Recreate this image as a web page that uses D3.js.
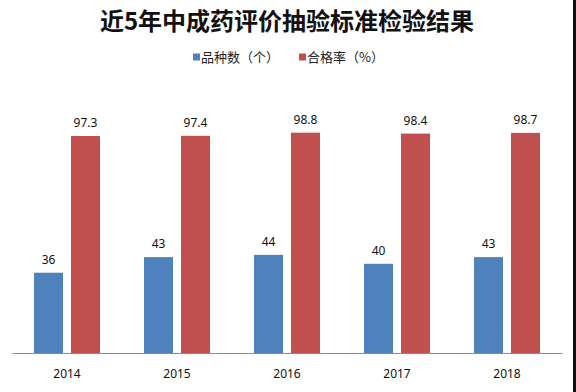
<!DOCTYPE html>
<html>
<head>
<meta charset="utf-8">
<script src="https://cdn.jsdelivr.net/npm/d3@7"></script>
<style>
  html, body { margin: 0; padding: 0; background: #fff; }
  svg { display: block; }
</style>
</head>
<body>
<svg id="chart" width="576" height="392"></svg>
<script>
const titleText = "近5年中成药评价抽验标准检验结果";
const years = ["2014", "2015", "2016", "2017", "2018"];
const seriesNames = ["品种数（个）", "合格率（%）"];
const seriesColors = ["#4F81BD", "#C0504D"];
const varietyCounts = [36, 43, 44, 40, 43];
const passRates = [97.3, 97.4, 98.8, 98.4, 98.7];
const valueLabels = [["36", "43", "44", "40", "43"], ["97.3", "97.4", "98.8", "98.4", "98.7"]];

const seriesValues = [varietyCounts, passRates];
const svg = d3.select("#chart");
const W = 576, H = 392;
const margin = { left: 12, right: 14, top: 130, bottom: 39 };
const baseY = H - margin.bottom;

const x0 = d3.scaleBand().domain(years).range([margin.left, W - margin.right]).paddingInner(0).paddingOuter(0);
const x1 = d3.scaleBand().domain([0, 1]).range([22, 88]).paddingInner(8 / 37).paddingOuter(0);
const y = d3.scaleLinear().domain([0, 100]).range([baseY, margin.top]);

// title
svg.append("text")
  .attr("x", 287).attr("y", 30)
  .attr("text-anchor", "middle")
  .attr("font-family", "'Noto Sans CJK SC', sans-serif")
  .attr("font-weight", 700)
  .attr("font-size", 24)
  .attr("fill", "#111")
  .text(titleText);

// legend
const legendItems = [{ x: 193 }, { x: 299 }];
legendItems.forEach((it, i) => {
  const g = svg.append("g").attr("transform", `translate(${it.x},57)`);
  g.append("rect").attr("x", 0).attr("y", -3.5).attr("width", 7).attr("height", 7).attr("fill", seriesColors[i]);
  g.append("text").attr("x", 8).attr("y", 0).attr("dy", "0.36em")
    .attr("font-family", "'Noto Sans CJK SC', sans-serif")
    .attr("font-size", 13).attr("fill", "#222")
    .text(seriesNames[i]);
});

// bars
years.forEach((yr, j) => {
  const g = svg.append("g").attr("transform", `translate(${x0(yr)},0)`);
  seriesValues.forEach((vals, i) => {
    const v = vals[j];
    g.append("rect")
      .attr("x", x1(i)).attr("width", x1.bandwidth())
      .attr("y", y(v)).attr("height", baseY - y(v))
      .attr("fill", seriesColors[i]);
    g.append("text")
      .attr("x", x1(i) + x1.bandwidth() / 2)
      .attr("y", y(v) - 9)
      .attr("text-anchor", "middle")
      .attr("font-family", "'Noto Sans', 'DejaVu Sans', sans-serif")
      .attr("font-size", 12).attr("fill", "#111")
      .text(valueLabels[i][j]);
  });
});

// x axis
const xAxis = d3.axisBottom(x0).tickSize(0).tickPadding(16);
const ax = svg.append("g").attr("transform", `translate(0,${baseY})`).call(xAxis);
ax.select(".domain").attr("stroke", "#8c8c8c").attr("stroke-width", 1.2);
ax.selectAll("text")
  .attr("font-family", "'Noto Sans', 'DejaVu Sans', sans-serif")
  .attr("font-size", 12).attr("fill", "#111");

// dark right edge present in the image
svg.append("rect").attr("x", 573).attr("y", 0).attr("width", 3).attr("height", H).attr("fill", "#111");
</script>
</body>
</html>
